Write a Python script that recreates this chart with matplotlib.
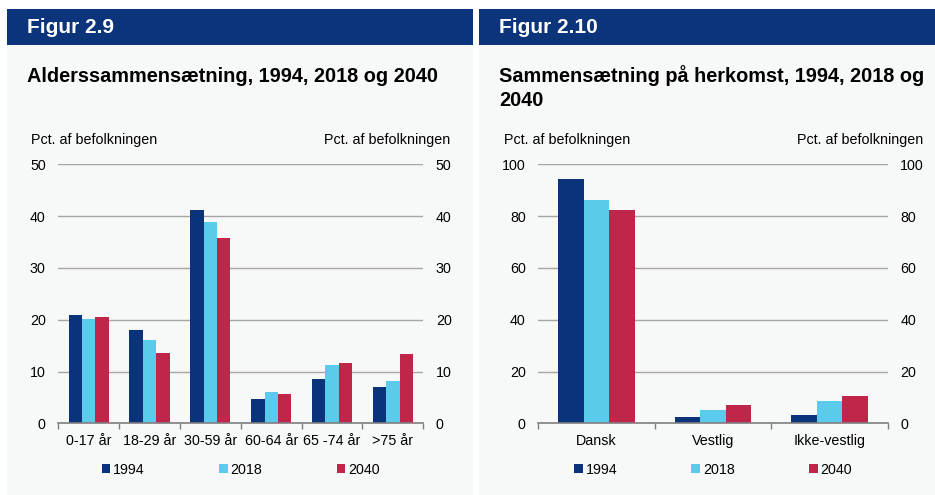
import matplotlib
matplotlib.use("Agg")
import matplotlib.pyplot as plt
from matplotlib.patches import Rectangle, Patch
import numpy as np

plt.rcParams['font.family'] = ['Liberation Sans', 'DejaVu Sans']

# ---- data ----
series = ['1994', '2018', '2040']
colors = ['#0A337A', '#5BCBEC', '#C0254A']

age_cats = ['0-17 år', '18-29 år', '30-59 år', '60-64 år', '65 -74 år', '>75 år']
age_1994 = [20.9, 18.1, 41.2, 4.6, 8.5, 7.0]
age_2018 = [20.2, 16.0, 38.8, 6.0, 11.2, 8.1]
age_2040 = [20.5, 13.5, 35.8, 5.6, 11.7, 13.3]

orig_cats = ['Dansk', 'Vestlig', 'Ikke-vestlig']
orig_1994 = [94.5, 2.3, 3.2]
orig_2018 = [86.4, 5.0, 8.6]
orig_2040 = [82.2, 7.1, 10.6]

age_ticks = [0, 10, 20, 30, 40, 50]
orig_ticks = [0, 20, 40, 60, 80, 100]

W, H = 935, 495
fig = plt.figure(figsize=(W / 100, H / 100), dpi=100)
fig.patch.set_facecolor('white')

HEADER = '#0B347A'
PANEL = '#F7F8F8'
FS = 10.3


def px_rect(x0, y0, x1, y1, color):
    fig.patches.append(Rectangle((x0 / W, 1 - y1 / H), (x1 - x0) / W, (y1 - y0) / H,
                                 transform=fig.transFigure, color=color, zorder=-10, lw=0))


def fx(x):
    return x / W


def fy(y):
    return 1 - y / H


# panels
px_rect(7, 45, 473, 495, PANEL)
px_rect(479, 45, 935, 495, PANEL)
px_rect(7, 9, 473, 45, HEADER)
px_rect(479, 9, 935, 45, HEADER)

fig.text(fx(27), fy(27.5), 'Figur 2.9', color='white', fontsize=15, fontweight='bold', va='center', ha='left')
fig.text(fx(499), fy(27.5), 'Figur 2.10', color='white', fontsize=15, fontweight='bold', va='center', ha='left')

TS = 14.35
fig.text(fx(27), fy(76), 'Alderssammensætning, 1994, 2018 og 2040', fontsize=TS, fontweight='bold',
         va='center', ha='left', color='black')
fig.text(fx(499), fy(76), 'Sammensætning på herkomst, 1994, 2018 og', fontsize=TS, fontweight='bold',
         va='center', ha='left', color='black')
fig.text(fx(499), fy(101), '2040', fontsize=TS, fontweight='bold',
         va='center', ha='left', color='black')

fig.text(fx(31), fy(140), 'Pct. af befolkningen', fontsize=FS, va='center', ha='left')
fig.text(fx(450), fy(140), 'Pct. af befolkningen', fontsize=FS, va='center', ha='right')
fig.text(fx(504), fy(140), 'Pct. af befolkningen', fontsize=FS, va='center', ha='left')
fig.text(fx(923), fy(140), 'Pct. af befolkningen', fontsize=FS, va='center', ha='right')


def make_chart(x0, x1, cats, vals, ticks):
    y_top, y_bot = 164.3, 423.3
    ax = fig.add_axes([fx(x0), fy(y_bot), (x1 - x0) / W, (y_bot - y_top) / H])
    ax.set_facecolor('none')
    n = len(cats)
    x = np.arange(n)
    bw = 0.22
    for i, (v, c) in enumerate(zip(vals, colors)):
        ax.bar(x + (i - 1) * bw, v, width=bw, color=c, edgecolor='none', zorder=3)
    ax.set_xlim(-0.5, n - 0.5)
    ax.set_ylim(ticks[0], ticks[-1])
    ax.set_yticks(ticks)
    ax.set_yticklabels([str(t) for t in ticks])
    ax.set_xticks(x)
    ax.set_xticklabels(cats)
    ax.set_xticks(np.arange(-0.5, n, 1.0), minor=True)
    ax.tick_params(axis='x', which='major', length=0, pad=8, labelsize=FS)
    ax.tick_params(axis='x', which='minor', length=4, width=1, color='#7F7F7F', direction='out')
    ax.tick_params(axis='y', length=0, pad=9, labelsize=FS, labelleft=True, labelright=True)
    for s in ['left', 'right', 'top']:
        ax.spines[s].set_visible(False)
    ax.spines['bottom'].set_color('#7F7F7F')
    ax.spines['bottom'].set_linewidth(1.2)
    ax.spines['bottom'].set_zorder(4)
    ax.yaxis.grid(True, color='#A6A6A6', linewidth=1)
    ax.set_axisbelow(True)
    handles = [Patch(facecolor=c, edgecolor='none') for c in colors]
    ax.legend(handles, series, loc='center', bbox_to_anchor=(0.5, (y_bot - 470) / (y_bot - y_top)),
              ncol=3, frameon=False, fontsize=FS, handlelength=0.6, handleheight=0.6,
              handletextpad=0.2, columnspacing=5.2, borderaxespad=0)
    return ax


make_chart(58.3, 423.3, age_cats, [age_1994, age_2018, age_2040], age_ticks)
make_chart(538.3, 887.7, orig_cats, [orig_1994, orig_2018, orig_2040], orig_ticks)

fig.savefig('out.png', dpi=100, facecolor=fig.get_facecolor())
